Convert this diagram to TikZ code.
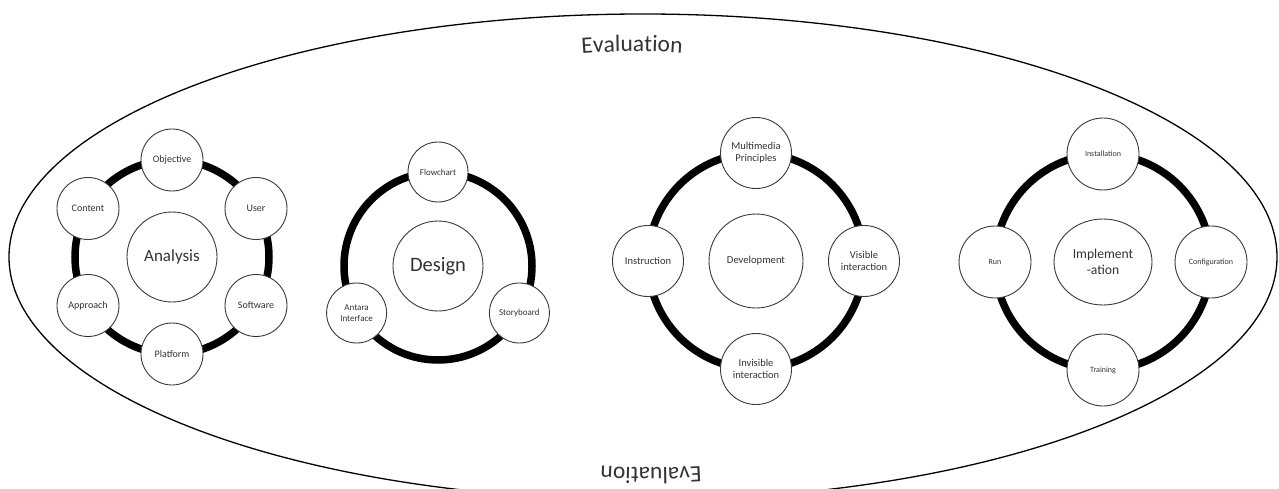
\documentclass[tikz,border=0pt]{standalone}
\usepackage{fontspec}
\setmainfont{Carlito}
\usetikzlibrary{decorations.text,shapes.geometric}
\definecolor{txt}{HTML}{333333}
\definecolor{edge}{HTML}{3A3A3A}
\begin{document}
\begin{tikzpicture}[x=1pt,y=1pt,
  ring/.style={line width=7.5pt, draw=black},
  circ/.style={circle, draw=edge, line width=0.9pt, fill=white, inner sep=0pt, text=txt, align=center},
  smA/.style={circ, minimum size=62pt, font=\fontsize{10}{11}\selectfont},
  smB/.style={circ, minimum size=60pt, font=\fontsize{9}{10.5}\selectfont},
  smC/.style={circ, minimum size=71pt, font=\fontsize{10.5}{12}\selectfont},
  smD/.style={circ, minimum size=72pt, font=\fontsize{8}{9.5}\selectfont},
  outer/.style={draw=black, line width=1.3pt}]
\clip (0,0) rectangle (1279,488);
\fill[white] (0,0) rectangle (1279,488);
% outer ellipse
\draw[outer] (643,231) ellipse [x radius=634pt, y radius=243pt];
\path[decorate, decoration={text along path, text align=center,
  text={|\fontsize{23.5}{28}\selectfont\color{txt}|Evaluation}}]
  (557,432) .. controls (597,438) and (667,438) .. (707,432);
\path[decorate, decoration={text along path, text align=center,
  text={|\fontsize{23.5}{28}\selectfont\color{txt}|Evaluation}}]
  (726,24) .. controls (688,19) and (614,19) .. (576,24);

% Analysis
\node[circ, minimum size=90pt, font=\fontsize{17}{20}\selectfont] (an) at (172,231) {Analysis};
\draw[ring] (an.center) circle [radius=97pt];
\node[smA] (obj) at ([shift={(90:97)}]an.center) {Objective};
\node[smA] (usr) at ([shift={(30:97)}]an.center) {User};
\node[smA] (sw)  at ([shift={(-30:97)}]an.center) {Software};
\node[smA] (pf)  at ([shift={(-90:97)}]an.center) {Platform};
\node[smA] (ap)  at ([shift={(-150:97)}]an.center) {Approach};
\node[smA] (ct)  at ([shift={(150:97)}]an.center) {Content};

% Design
\node[circ, minimum size=90pt, font=\fontsize{20.5}{24}\selectfont] (de) at (438,222) {Design};
\draw[ring] (de.center) circle [radius=94pt];
\node[smB] (fc) at ([shift={(90:94)}]de.center) {Flowchart};
\node[smB] (sb) at ([shift={(-30:94)}]de.center) {Storyboard};
\node[smB] (ai) at ([shift={(210:94)}]de.center) {Antara\\Interface};

% Development
\node[circ, minimum size=94pt, font=\fontsize{10.6}{12}\selectfont] (dv) at (756,227) {Development};
\draw[ring] (dv.center) circle [radius=108pt];
\node[smC] (mp) at ([shift={(90:108)}]dv.center) {Multimedia\\Principles};
\node[smC] (vi) at ([shift={(0:108)}]dv.center) {Visible\\interaction};
\node[smC] (ii) at ([shift={(-90:108)}]dv.center) {Invisible\\interaction};
\node[smC] (in) at ([shift={(180:108)}]dv.center) {Instruction};

% Implementation
\node[ellipse, draw=edge, line width=0.9pt, fill=white, inner sep=0pt, text=txt, align=center,
  minimum width=98pt, minimum height=86pt, font=\fontsize{13.6}{16}\selectfont] (im) at (1103,226) {Implement\\-ation};
\draw[ring] (im.center) circle [radius=108pt];
\node[smD] (ins) at ([shift={(90:108)}]im.center) {Installation};
\node[smD] (cfg) at ([shift={(0:108)}]im.center) {Configuration};
\node[smD] (tr)  at ([shift={(-90:108)}]im.center) {Training};
\node[smD] (run) at ([shift={(180:108)}]im.center) {Run};
\end{tikzpicture}
\end{document}
